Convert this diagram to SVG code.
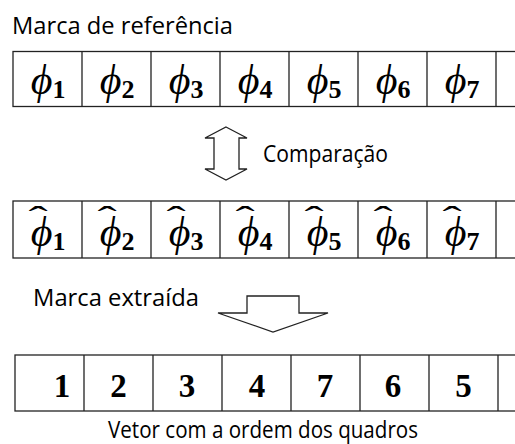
<svg xmlns="http://www.w3.org/2000/svg" width="515" height="444" viewBox="0 0 515 444">
<style>
.lbl{font-family:"Open Sans","Liberation Sans",sans-serif;font-size:23px;fill:#000}
.cell{fill:#fff;stroke:#222;stroke-width:1.3}
.phi{font-family:"Liberation Serif","DejaVu Serif",serif;font-style:italic;font-size:42px;fill:#000}
.sub{font-family:"Liberation Serif","DejaVu Serif",serif;font-style:normal;font-weight:bold;font-size:26px}
.hat{font-family:"Liberation Serif","DejaVu Serif",serif;font-size:32px;fill:#000}
.num{font-family:"Liberation Serif","DejaVu Serif",serif;font-weight:bold;font-size:33px;fill:#000;text-anchor:middle}
.arrow{fill:#fff;stroke:#222;stroke-width:1.3;stroke-linejoin:miter}
</style>
<rect width="515" height="444" fill="#fff"/>
<text class="lbl" x="12" y="34" textLength="221" lengthAdjust="spacingAndGlyphs">Marca de referência</text>

<g id="row-reference">
<rect class="cell" x="13" y="51.5" width="520" height="55"/>
<path d="M82 51.5V106.5M151 51.5V106.5M220 51.5V106.5M289 51.5V106.5M358 51.5V106.5M427 51.5V106.5M496 51.5V106.5" stroke="#222" stroke-width="1.3"/>
<text class="phi" text-anchor="middle" y="94" x="48">ϕ<tspan class="sub" dy="4">1</tspan></text>
<text class="phi" text-anchor="middle" y="94" x="117">ϕ<tspan class="sub" dy="4">2</tspan></text>
<text class="phi" text-anchor="middle" y="94" x="186">ϕ<tspan class="sub" dy="4">3</tspan></text>
<text class="phi" text-anchor="middle" y="94" x="255">ϕ<tspan class="sub" dy="4">4</tspan></text>
<text class="phi" text-anchor="middle" y="94" x="324">ϕ<tspan class="sub" dy="4">5</tspan></text>
<text class="phi" text-anchor="middle" y="94" x="393">ϕ<tspan class="sub" dy="4">6</tspan></text>
<text class="phi" text-anchor="middle" y="94" x="462">ϕ<tspan class="sub" dy="4">7</tspan></text>
</g>

<g id="connectors">
<polygon class="arrow" points="226,127 247,138 239,138 239,169 247,169 226,180 205,169 214,169 214,138 205,138"/>
<polygon class="arrow" points="247,296 299,296 299,313 328,313 273,332 218,313 247,313"/>
</g>
<text class="lbl" x="263" y="162" textLength="125" lengthAdjust="spacingAndGlyphs">Comparação</text>

<g id="row-extracted">
<rect class="cell" x="13" y="201" width="520" height="57"/>
<path d="M82 201V258M151 201V258M220 201V258M289 201V258M358 201V258M427 201V258M496 201V258" stroke="#222" stroke-width="1.3"/>
<text class="phi" text-anchor="middle" y="246" x="48">ϕ<tspan class="sub" dy="4">1</tspan></text>
<text class="phi" text-anchor="middle" y="246" x="117">ϕ<tspan class="sub" dy="4">2</tspan></text>
<text class="phi" text-anchor="middle" y="246" x="186">ϕ<tspan class="sub" dy="4">3</tspan></text>
<text class="phi" text-anchor="middle" y="246" x="255">ϕ<tspan class="sub" dy="4">4</tspan></text>
<text class="phi" text-anchor="middle" y="246" x="324">ϕ<tspan class="sub" dy="4">5</tspan></text>
<text class="phi" text-anchor="middle" y="246" x="393">ϕ<tspan class="sub" dy="4">6</tspan></text>
<text class="phi" text-anchor="middle" y="246" x="462">ϕ<tspan class="sub" dy="4">7</tspan></text>
<g class="hat" text-anchor="middle">
<text x="38" y="228" transform="translate(38 0) scale(1.8 1) translate(-38 0)">ˆ</text>
<text x="107" y="228" transform="translate(107 0) scale(1.8 1) translate(-107 0)">ˆ</text>
<text x="176" y="228" transform="translate(176 0) scale(1.8 1) translate(-176 0)">ˆ</text>
<text x="245" y="228" transform="translate(245 0) scale(1.8 1) translate(-245 0)">ˆ</text>
<text x="314" y="228" transform="translate(314 0) scale(1.8 1) translate(-314 0)">ˆ</text>
<text x="383" y="228" transform="translate(383 0) scale(1.8 1) translate(-383 0)">ˆ</text>
<text x="452" y="228" transform="translate(452 0) scale(1.8 1) translate(-452 0)">ˆ</text>
</g>
</g>

<text class="lbl" x="33" y="306" textLength="166" lengthAdjust="spacingAndGlyphs">Marca extraída</text>

<g id="row-order">
<rect class="cell" x="15" y="355" width="520" height="56"/>
<path d="M84 355V411M153 355V411M222 355V411M291 355V411M360 355V411M429 355V411M498 355V411" stroke="#222" stroke-width="1.3"/>
<text class="num" x="62" y="397">1</text>
<text class="num" x="118.5" y="397">2</text>
<text class="num" x="187" y="397">3</text>
<text class="num" x="257" y="397">4</text>
<text class="num" x="325" y="397">7</text>
<text class="num" x="393" y="397">6</text>
<text class="num" x="463.5" y="397">5</text>
</g>
<text class="lbl" x="263" y="438" text-anchor="middle" textLength="310" lengthAdjust="spacingAndGlyphs">Vetor com a ordem dos quadros</text>
</svg>
